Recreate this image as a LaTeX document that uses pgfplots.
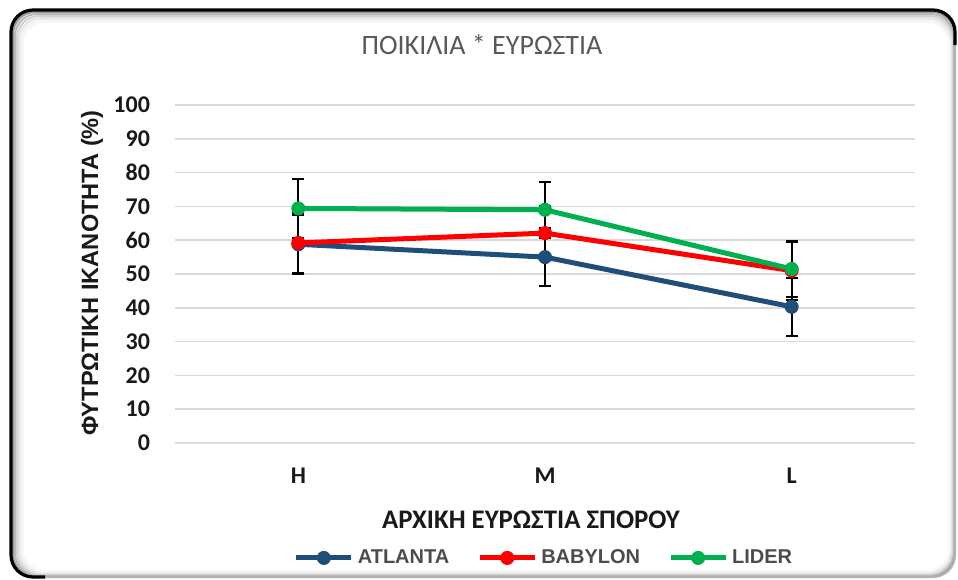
\documentclass[border=0pt]{standalone}
\usepackage{pgfplots}
\pgfplotsset{compat=1.18}
\usepackage{fontspec}
\setmainfont{Carlito}
\newfontfamily\arialfont{Liberation Sans}
\definecolor{cblue}{HTML}{1F4E79}
\definecolor{cred}{HTML}{FF0000}
\definecolor{cgreen}{HTML}{00B050}
\definecolor{cgrid}{HTML}{D9D9D9}
\definecolor{ctext}{HTML}{595959}
\pgfplotsset{
  errb/.style={forget plot, draw=none, mark=none, error bars/.cd, y dir=both, y explicit,
    error bar style={draw=black, line width=1pt}, error mark options={draw=black, line width=1pt, mark size=3pt, rotate=90}},
  mk/.style={forget plot, only marks, mark=*, mark size=3.3pt, mark options={line width=0.4pt}},
}
\begin{document}
\begin{tikzpicture}
\begin{scope}[x=0.5pt,y=-0.5pt]
\path[use as bounding box] (0,0) rectangle (958,579);
\foreach \i/\c in {1/40,2/28,3/18,4/11,5/6,6/3} {
  \draw[black!\c, line width=1pt, rounded corners=11pt] (11+2*\i,10+2*\i) rectangle (955-1*\i,577-1*\i);
}
\draw[black!30, line width=1pt, rounded corners=11pt] (11,10) rectangle (955,577);
\draw[black, line width=1.6pt, rounded corners=11pt] (45,577) -- (11,577) -- (11,10) -- (955,10) -- (955,45);
\node[text=ctext, font=\fontsize{14}{16}\selectfont] at (482,45) {ΠΟΙΚΙΛΙΑ * ΕΥΡΩΣΤΙΑ};
\end{scope}
\begin{axis}[
  at={(87.5pt,-221.5pt)}, anchor=south west,
  scale only axis, width=370pt, height=169pt,
  xmin=-0.5, xmax=2.5, ymin=0, ymax=100,
  xtick={0,1,2}, xticklabels={H,M,L},
  ytick={0,10,...,100},
  ymajorgrids, grid style={cgrid, line width=0.8pt},
  axis line style={draw=none},
  major tick length=0pt,
  tick label style={font=\bfseries\fontsize{12}{14}\selectfont, text=black!90},
  /pgf/number format/assume math mode=true,
  yticklabel style={xshift=-9pt},
  xticklabel style={yshift=-9pt},
  xlabel={ΑΡΧΙΚΗ ΕΥΡΩΣΤΙΑ ΣΠΟΡΟΥ},
  xlabel style={at={(axis description cs:0.481,-0.228)}, anchor=center, font=\bfseries\fontsize{13.4}{15}\selectfont, text=black!90},
  ylabel={ΦΥΤΡΩΤΙΚΗ ΙΚΑΝΟΤΗΤΑ (\%)},
  ylabel style={at={(axis description cs:-0.112,0.503)}, anchor=center, font=\arialfont\bfseries\fontsize{11.8}{13}\selectfont, text=black!90},
  legend style={at={(axis description cs:0.5,-0.34)}, anchor=center, draw=none, fill=none,
    font=\arialfont\bfseries\fontsize{10}{12}\selectfont, text=black!70,
    /tikz/every even column/.append style={column sep=12pt}},
  legend columns=3,
  legend image code/.code={\draw[mark repeat=2,mark phase=2,#1] plot coordinates {(0pt,0pt) (13.75pt,0pt) (27.5pt,0pt)};},
]
\addlegendimage{cblue, line width=2.5pt, mark=*, mark size=3.3pt, mark options={line width=0.4pt}}
\addlegendentry{ATLANTA}
\addlegendimage{cred, line width=2.5pt, mark=*, mark size=3.3pt, mark options={line width=0.4pt}}
\addlegendentry{BABYLON}
\addlegendimage{cgreen, line width=2.5pt, mark=*, mark size=3.3pt, mark options={line width=0.4pt}}
\addlegendentry{LIDER}
% lines
\addplot[forget plot, cblue, line width=2.5pt, mark=none] coordinates {(0,58.8) (1,55.0) (2,40.3)};
\addplot[forget plot, cred, line width=2.5pt, mark=none] coordinates {(0,59.2) (1,62.1) (2,51.0)};
\addplot[forget plot, cgreen, line width=2.5pt, mark=none] coordinates {(0,69.4) (1,69.0) (2,51.5)};
% error bars
\addplot[errb] coordinates {(0,58.8) +- (0,8.8) (1,55.0) +- (0,8.6) (2,40.3) +- (0,8.6)};
\addplot[errb] coordinates {(0,59.2) +- (0,8.9) (1,62.1) +- (0,8.0) (2,51.0) +- (0,8.6)};
\addplot[errb] coordinates {(0,69.4) +- (0,8.8) (1,69.0) +- (0,8.2) (2,51.5) +- (0,8.3)};
% markers
\addplot[mk, cblue] coordinates {(0,58.8) (1,55.0) (2,40.3)};
\addplot[mk, cred] coordinates {(0,59.2) (1,62.1) (2,51.0)};
\addplot[mk, cgreen] coordinates {(0,69.4) (1,69.0) (2,51.5)};
\end{axis}
\end{tikzpicture}
\end{document}
